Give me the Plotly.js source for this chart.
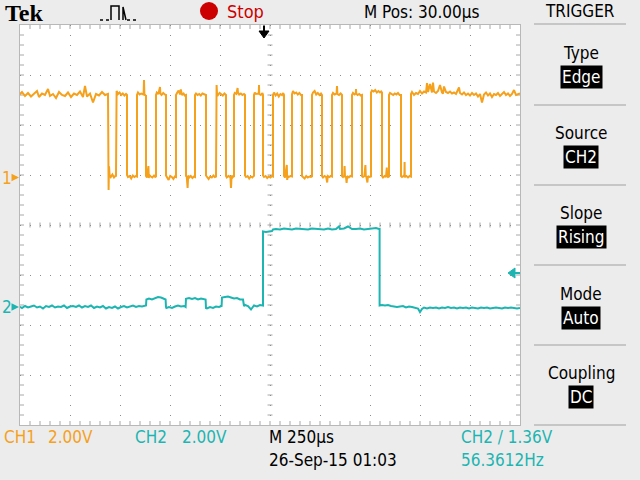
<!DOCTYPE html>
<html><head><meta charset="utf-8">
<script src="https://cdn.plot.ly/plotly-3.0.1.min.js"></script>
<style>html,body{margin:0;padding:0;background:#ECECEC;} #chart{width:640px;height:480px;}</style>
</head><body><div id="chart"></div>
<script>
// ---------------- DATA ----------------
// time in microseconds (trigger = 0), voltages in volts
const ch1Time = [
  -1225,-1210,-1195,-1180,-1165,-1150,-1135,-1125,-1110,-1095,-1080,-1070,-1055,-1040,-1025,-1010,-995,-980,-965,-950,-935,-920,-905,-895,-885,-870,-855,-840,-825,-810,-795,-780,
  -780,-777,-775,-772,-766,-758,-750,-744,-740,
  -740,-737,-730,-722,-714,-706,-698,-690,-685,
  -685,-680,-672,-664,-656,-648,-640,-635,
  -635,-630,-622,-614,-602,-600,-598,-592,-590,
  -590,-585,-578,-576,-574,-566,-558,-550,-544,-540,
  -540,-536,-528,-520,-518,-512,-504,-496,-490,
  -490,-485,-477,-469,-461,-453,-446,-440,
  -440,-435,-427,-420,-416,-410,-402,-396,-390,
  -390,-386,-382,-379,-374,-366,-358,-350,-345,
  -345,-340,-332,-324,-316,-308,-300,-294,-290,
  -290,-285,-277,-269,-261,-253,-246,-240,
  -240,-237,-235,-230,-222,-214,-206,-198,-190,
  -190,-186,-178,-168,-165,-162,-157,-153,-150,
  -150,-146,-138,-132,-130,-124,-116,-108,-100,-95,
  -95,-90,-82,-74,-66,-58,-52,-50,
  -50,-46,-40,-26,-25,-24,-16,-8,-5,
  -5,0,8,16,24,32,40,45,
  45,50,58,66,74,82,90,96,100,
  100,105,114,116,118,124,132,140,
  140,145,153,161,169,177,185,190,
  190,195,203,211,219,227,235,240,
  240,245,253,261,269,277,285,290,
  290,295,303,311,316,319,327,335,340,
  340,345,353,363,365,367,375,383,390,
  390,395,401,403,405,410,413,416,424,432,440,
  440,445,453,459,460,461,468,476,484,490,
  490,495,502,507,509,512,517,520,527,535,
  535,540,548,556,564,572,580,586,590,
  590,595,603,610,614,616,620,625,
  625,630,638,646,654,662,670,678,685,
  685,690,697,702,703,704,712,720,728,735,
  735,740,750,760,770,780,790,800,810,815,820,830,840,845,850,860,870,880,890,895,900,910,920,930,940,950,960,975,980,990,1000,1010,1020,1030,1040,1050,1060,1070,1080,1090,1100,1110,1120,1130,1140,1150,1160,1170,1180,1190,1200,1210,1220,1230,1240,1250,1260,1280
];
const ch1Volts = [
  3.30,3.42,3.26,3.38,3.24,3.36,3.46,3.22,3.36,3.30,3.54,3.26,3.34,3.18,3.42,3.30,3.26,3.40,3.22,3.36,3.30,3.44,3.22,3.66,3.24,3.36,3.00,3.34,3.28,3.42,3.30,3.34,
  0.40,-0.50,0.45,0.10,0.02,0.12,0.00,0.06,0.04,
  3.30,3.46,3.34,3.40,3.30,3.36,3.28,3.34,3.30,
  0.10,0.02,0.06,-0.04,0.08,0.02,0.06,0.04,
  3.30,3.40,3.32,3.36,3.32,3.90,3.34,3.28,3.30,
  0.06,0.00,0.46,-0.02,0.10,0.04,0.00,0.08,0.02,0.04,
  3.30,3.40,3.34,3.62,3.36,3.30,3.38,3.32,3.30,
  0.08,0.00,-0.10,0.06,0.02,-0.06,0.04,0.02,
  3.30,3.38,3.48,3.32,3.52,3.30,3.36,3.28,3.30,
  0.06,0.02,-0.42,0.08,0.00,0.06,-0.02,0.04,0.02,
  3.30,3.36,3.30,3.34,3.28,3.36,3.32,3.30,3.30,
  0.08,0.02,-0.06,0.04,0.00,0.08,0.02,0.04,
  3.32,3.70,3.36,3.30,3.38,3.32,3.28,3.36,3.30,
  0.06,0.00,0.06,0.02,-0.42,0.08,0.00,0.04,0.02,
  3.30,3.38,3.34,3.58,3.40,3.32,3.36,3.30,3.34,3.30,
  0.08,0.02,0.06,-0.04,0.04,0.00,0.06,0.04,
  3.30,3.40,3.34,3.36,3.70,3.34,3.30,3.38,3.30,
  0.08,0.02,0.06,-0.02,0.04,0.00,0.06,0.04,
  3.30,3.40,3.28,3.36,3.24,3.34,3.30,3.38,3.30,
  0.06,0.00,0.50,-0.10,0.06,0.02,0.06,0.04,
  3.32,3.46,3.36,3.40,3.32,3.38,3.30,3.30,
  0.06,0.02,-0.04,0.06,0.00,0.04,0.02,0.04,
  3.30,3.40,3.46,3.32,3.38,3.30,3.36,3.30,
  0.06,0.00,0.06,0.02,-0.20,0.06,0.02,0.06,0.04,
  3.30,3.38,3.32,3.36,3.66,3.34,3.30,3.36,3.30,
  0.06,0.02,0.08,0.46,0.04,0.02,-0.22,0.06,0.00,0.06,0.04,
  3.30,3.38,3.32,3.36,3.54,3.36,3.30,3.34,3.28,3.30,
  0.06,0.02,0.06,0.50,0.06,0.02,-0.20,0.06,0.02,0.04,
  3.40,3.48,3.44,3.50,3.40,3.46,3.40,3.44,3.40,
  0.06,0.00,0.06,0.02,0.40,0.04,0.02,0.04,
  3.30,3.38,3.34,3.30,3.36,3.32,3.38,3.30,3.30,
  0.06,0.02,0.06,0.04,0.62,0.02,0.06,0.00,0.06,0.04,
  3.34,3.42,3.30,3.38,3.34,3.46,3.36,3.44,3.40,3.78,3.42,3.74,3.40,3.80,3.44,3.38,3.46,3.70,3.40,3.36,3.64,3.42,3.38,3.44,3.36,3.40,3.34,3.60,3.38,3.32,3.40,3.30,3.36,3.28,3.38,3.30,3.36,3.24,3.34,3.00,3.32,3.40,3.28,3.36,3.22,3.34,3.30,3.38,3.26,3.34,3.42,3.30,3.36,3.26,3.34,3.50,3.30,3.36
];
const ch2Time = [
  -1225,-1210,-1195,-1180,-1165,-1150,-1135,-1120,-1105,-1090,-1075,-1060,-1045,-1030,-1015,-1000,-985,-970,-955,-940,-925,-910,-895,-880,-865,-850,-835,-820,-805,-790,-775,-760,-745,-730,-715,-700,-685,-670,-655,-640,-625,-610,-595,
  -590,-588,-575,-560,-545,-530,-515,-505,-492,-490,
  -488,-475,-460,-445,-430,-415,-400,-392,
  -390,-375,-360,-345,-330,-315,-300,-292,-290,
  -285,-270,-255,-240,-225,-212,
  -210,-195,-180,-165,-150,-135,-120,-105,-100,
  -95,-80,-65,-50,-35,-20,-5,
  -5,10,25,40,45,60,80,100,120,140,160,180,200,220,240,260,280,300,320,340,360,375,380,400,420,440,460,480,500,520,540,560,575,578,
  578,590,605,620,635,650,665,680,695,710,725,740,755,770,780,785,790,800,815,830,845,860,875,890,905,920,935,950,965,980,995,1010,1025,1040,1055,1070,1085,1100,1115,1130,1145,1160,1175,1190,1205,1220,1235,1250,1265,1280
];
const ch2Volts = [
  0.02,-0.04,0.04,-0.02,0.02,0.06,-0.02,0.02,-0.06,0.04,0.00,0.06,-0.02,0.02,0.00,0.06,-0.04,0.02,0.04,0.00,0.06,-0.02,0.04,0.00,0.06,-0.04,0.02,-0.02,0.04,-0.06,0.00,-0.04,0.02,-0.06,0.00,0.04,-0.02,0.02,0.06,0.00,0.04,0.02,0.06,
  0.06,0.30,0.34,0.30,0.36,0.40,0.38,0.34,0.30,0.00,
  -0.04,0.00,-0.04,0.02,0.06,0.02,0.04,0.00,
  0.33,0.36,0.32,0.36,0.30,0.34,0.32,0.30,-0.04,
  -0.06,0.00,-0.04,0.02,0.00,0.04,
  0.38,0.40,0.42,0.38,0.34,0.36,0.30,0.30,0.04,
  0.08,0.04,-0.10,0.06,0.02,0.08,0.06,
  3.02,3.00,3.02,3.04,3.10,3.12,3.10,3.14,3.12,3.10,3.14,3.12,3.12,3.10,3.14,3.12,3.12,3.10,3.14,3.10,3.12,3.22,3.12,3.14,3.22,3.12,3.12,3.14,3.10,3.12,3.14,3.16,3.12,3.12,
  0.06,0.08,0.06,0.08,0.04,0.02,0.00,0.02,0.04,-0.02,0.02,0.00,-0.04,-0.06,-0.20,-0.10,-0.08,-0.02,-0.06,-0.02,-0.04,-0.02,-0.06,-0.02,-0.04,0.00,-0.04,-0.02,-0.06,-0.02,-0.04,-0.02,-0.06,-0.02,-0.04,-0.06,-0.02,-0.04,-0.02,-0.06,-0.04,-0.02,-0.04,-0.06,-0.02,-0.04,-0.02,-0.04,-0.06,-0.04
];
const voltsPerDiv = 2.00;      // both channels 2.00 V/div
const ch1Position = 0.95;      // ground marker, divisions
const ch2Position = -1.64;
const triggerLevel = 1.36;     // volts on CH2
const timePerDiv = 250;        // µs
const horizPos = 30;           // µs, screen centre relative to trigger
const menuLabels = ['Type','Source','Slope','Mode','Coupling'];
const menuValues = ['Edge','CH2','Rising','Auto','DC'];

// ---------------- STYLE ----------------
const ORANGE = '#F5A11C', CYAN = '#1DB5B1', RED = '#CC0000';
const NARROW = '"Liberation Sans Narrow","DejaVu Sans Condensed","Arial Narrow","Liberation Sans",sans-serif';
const W = 640, H = 480, ML = 20, MR = 120, MT = 25, MB = 55;
const P = x => (x - ML) / (W - ML - MR);
const Q = y => (H - MB - y) / (H - MT - MB);

const toDiv = (pos, arr) => arr.map(v => pos + v / voltsPerDiv);
const xMin = horizPos - 5 * timePerDiv, xMax = horizPos + 5 * timePerDiv;

const traces = [
  {x: ch1Time, y: toDiv(ch1Position, ch1Volts), mode: 'lines', line: {color: ORANGE, width: 2}, hoverinfo: 'skip'},
  {x: ch2Time, y: toDiv(ch2Position, ch2Volts), mode: 'lines', line: {color: CYAN, width: 2}, hoverinfo: 'skip'}
];

// graticule tick marks (border + centre cross)
const minorX = timePerDiv / 5, minorY = 0.2;
const tlx = 20, tly = 0.08; // border tick length (4 px)
let path = '';
for (let k = 1; k < 50; k++) {
  const t = xMin + k * minorX;
  path += `M${t},4 L${t},${4 - tly} M${t},-4 L${t},${-4 + tly} M${t},0.05 L${t},-0.05 `;
}
for (let j = 1; j < 40; j++) {
  const v = -4 + j * minorY;
  path += `M${xMin},${v} L${xMin + tlx},${v} M${xMax},${v} L${xMax - tlx},${v} M${horizPos - 12.5},${v} L${horizPos + 12.5},${v} `;
}
const shapes = [
  {type: 'path', xref: 'x', yref: 'y', path: path, line: {color: '#A8A8A8', width: 1}, layer: 'below'},
];
// trigger time marker (top, at t = 0)
shapes.push({type: 'path', xref: 'x', yref: 'y', path: 'M-25,3.88 L25,3.88 L0,3.74 Z', fillcolor: '#000', line: {color: '#000', width: 1}});
shapes.push({type: 'line', xref: 'x', yref: 'y', x0: 0, x1: 0, y0: 3.99, y1: 3.86, line: {color: '#000', width: 2}});
// trigger level marker (right)
const tl = ch2Position + triggerLevel / voltsPerDiv;
shapes.push({type: 'path', xref: 'x', yref: 'y', path: `M1220,${tl} L1255,${tl + 0.1} L1255,${tl - 0.1} Z`, fillcolor: CYAN, line: {color: CYAN, width: 1}});
shapes.push({type: 'line', xref: 'x', yref: 'y', x0: 1250, x1: 1285, y0: tl, y1: tl, line: {color: CYAN, width: 2}});
// stop dot
shapes.push({type: 'circle', xref: 'paper', yref: 'paper', x0: P(200), x1: P(218), y0: Q(20), y1: Q(2), fillcolor: RED, line: {color: RED, width: 0}});
// acquisition icon
shapes.push({type: 'path', xref: 'paper', yref: 'paper',
  path: `M${P(111)},${Q(20)} L${P(111)},${Q(6)} L${P(119)},${Q(6)} L${P(119)},${Q(20)} M${P(123)},${Q(20)} L${P(123)},${Q(7)} L${P(126)},${Q(20)}`,
  line: {color: '#000', width: 1.5}});
shapes.push({type: 'line', xref: 'paper', yref: 'paper', x0: P(100), x1: P(110), y0: Q(20), y1: Q(20), line: {color: '#000', width: 1.5, dash: 'dot'}});
shapes.push({type: 'line', xref: 'paper', yref: 'paper', x0: P(127), x1: P(137), y0: Q(20), y1: Q(20), line: {color: '#000', width: 1.5, dash: 'dot'}});
// menu separators
[24, 105, 185, 265, 345, 425].forEach(y => shapes.push({type: 'line', xref: 'paper', yref: 'paper', x0: P(534), x1: P(626), y0: Q(y), y1: Q(y), line: {color: '#C6C6C6', width: 2}}));

const ann = [];
function txt(text, x, y, color, size, anchor, extra) {
  ann.push(Object.assign({text: text, xref: 'paper', yref: 'paper', x: P(x), y: Q(y), xanchor: anchor || 'center', yanchor: 'middle',
    showarrow: false, font: {family: NARROW, size: size || 17, color: color || '#000'}}, extra || {}));
}
txt('<b>Tek</b>', 24, 13, '#000', 24, 'center', {font: {family: '"Liberation Serif","DejaVu Serif",serif', size: 24, color: '#000'}});
txt('Stop', 225, 11, RED, 18, 'left');
txt('M Pos: 30.00µs', 422, 12, '#000', 17);
txt('TRIGGER', 580, 11, '#000', 17);
const menuY = [53, 133, 213, 294, 373];
menuLabels.forEach((lab, i) => {
  txt(lab, 581, menuY[i], '#000', 17);
  txt(menuValues[i], 581, menuY[i] + 24, '#FFF', 17, 'center', {bgcolor: '#000', borderpad: 1});
});
txt('CH1', 2, 437, ORANGE, 17, 'left');
txt(voltsPerDiv.toFixed(2) + 'V', 46, 437, ORANGE, 17, 'left');
txt('CH2', 133, 437, CYAN, 17, 'left');
txt(voltsPerDiv.toFixed(2) + 'V', 180, 437, CYAN, 17, 'left');
txt('M 250µs', 267, 437, '#000', 17, 'left');
txt('26-Sep-15 01:03', 267, 460, '#000', 17, 'left');
txt('CH2 / ' + triggerLevel.toFixed(2) + 'V', 459, 437, CYAN, 17, 'left');
txt('56.3612Hz', 459, 460, CYAN, 17, 'left');
// channel ground markers
[['1', ch1Position, ORANGE], ['2', ch2Position, CYAN]].forEach(([lab, pos, col]) => {
  ann.push({text: lab, xref: 'paper', yref: 'y', x: P(19), y: pos, ax: -12, ay: 0, showarrow: true,
    arrowhead: 2, arrowsize: 1, arrowwidth: 1.5, arrowcolor: col, standoff: 0,
    font: {family: NARROW, size: 17, color: col}});
});

const axisCommon = {showgrid: true, gridcolor: '#8C8C8C', gridwidth: 1, griddash: '1px,9px', zeroline: false,
  showline: true, mirror: true, linecolor: '#B8B8B8', linewidth: 1, ticks: '', showticklabels: false, fixedrange: true};

const layout = {
  width: W, height: H, margin: {l: ML, r: MR, t: MT, b: MB, pad: 0},
  paper_bgcolor: '#ECECEC', plot_bgcolor: '#FFFFFF', showlegend: false,
  xaxis: Object.assign({range: [xMin, xMax], tick0: horizPos, dtick: timePerDiv}, axisCommon),
  yaxis: Object.assign({range: [-4, 4], tick0: 0, dtick: 1}, axisCommon),
  shapes: shapes, annotations: ann
};
Plotly.newPlot('chart', traces, layout, {staticPlot: true, displayModeBar: false});
</script></body></html>
